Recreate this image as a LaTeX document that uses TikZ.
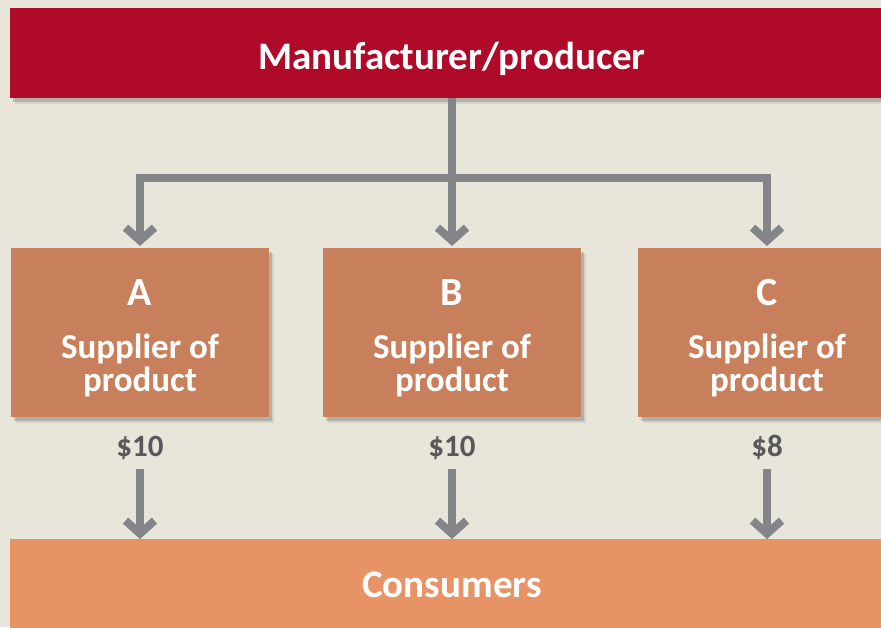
\documentclass[tikz,border=0pt]{standalone}
\usepackage{fontspec}
\setmainfont{Carlito}
\usetikzlibrary{arrows.meta,shadows}
\definecolor{bgc}{HTML}{E8E6DB}
\definecolor{mred}{HTML}{AF0A28}
\definecolor{supc}{HTML}{C8805C}
\definecolor{conc}{HTML}{E79366}
\definecolor{arrc}{HTML}{848589}
\definecolor{pricec}{HTML}{58585A}
\begin{document}
\begin{tikzpicture}[x=1pt,y=-1pt,
  blk/.style={rectangle, inner sep=0pt, outer sep=0pt, draw=none},
  shad/.style={general shadow={shadow xshift=5pt, shadow yshift=-6pt, opacity=0.08, fill=black},
               general shadow={shadow xshift=3pt, shadow yshift=-4pt, opacity=0.16, fill=black}},
  topbox/.style={blk, fill=mred, shad, minimum width=884pt, minimum height=90pt},
  supbox/.style={blk, fill=supc, shad, minimum width=258pt, minimum height=169pt},
  conbox/.style={blk, fill=conc, minimum width=884pt, minimum height=92pt},
  wtxt/.style={text=white, font=\bfseries, inner sep=0pt, anchor=base},
  ptxt/.style={text=pricec, font=\bfseries\fontsize{31}{31}\selectfont, inner sep=0pt, anchor=base},
  conn/.style={draw=arrc, line width=8pt, line join=miter},
  arr/.style={conn, -{Straight Barb[length=13pt, width=29pt, line join=miter]}}]
\fill[bgc] (0,0) rectangle (881,627);
\useasboundingbox (0,0) rectangle (881,627);
% boxes
\node[topbox] (top) at (452,53) {};
\node[wtxt, font=\bfseries\fontsize{39}{39}\selectfont] (toptxt) at (452,69.5) {Manufacturer/producer};
\node[supbox] (A) at (140,332.5) {};
\node[supbox] (B) at (452,332.5) {};
\node[supbox] (C) at (767,332.5) {};
\node[conbox] (cons) at (452,585) {};
\node[wtxt, font=\bfseries\fontsize{39}{39}\selectfont] (constxt) at (452,597) {Consumers};
% supplier texts
\foreach \n/\l/\x in {A/A/140, B/B/452, C/C/767}{
  \node[wtxt, font=\bfseries\fontsize{40}{40}\selectfont] (\n t) at (\x,305) {\l};
  \node[wtxt, font=\bfseries\fontsize{35}{35}\selectfont] (\n s) at (\x,358) {Supplier of};
  \node[wtxt, font=\bfseries\fontsize{35}{35}\selectfont] (\n p) at (\x,391) {product};
}
% prices
\node[ptxt] (pA) at (140,456) {\$10};
\node[ptxt] (pB) at (452,456) {\$10};
\node[ptxt] (pC) at (767,456) {\$8};
% top connectors
\coordinate (j) at (452,178);
\draw[conn] (top.south) -- (j);
\draw[arr, shorten >=2pt] (j) -- (B.north);
\draw[arr, shorten >=2pt] (j) -| (A.north);
\draw[arr, shorten >=2pt] (j) -| (C.north);
% bottom connectors
\coordinate (qA) at (140,469);
\coordinate (qB) at (452,469);
\coordinate (qC) at (767,469);
\draw[arr] (qA) -- (qA |- cons.north);
\draw[arr] (qB) -- (qB |- cons.north);
\draw[arr] (qC) -- (qC |- cons.north);
\end{tikzpicture}
\end{document}
